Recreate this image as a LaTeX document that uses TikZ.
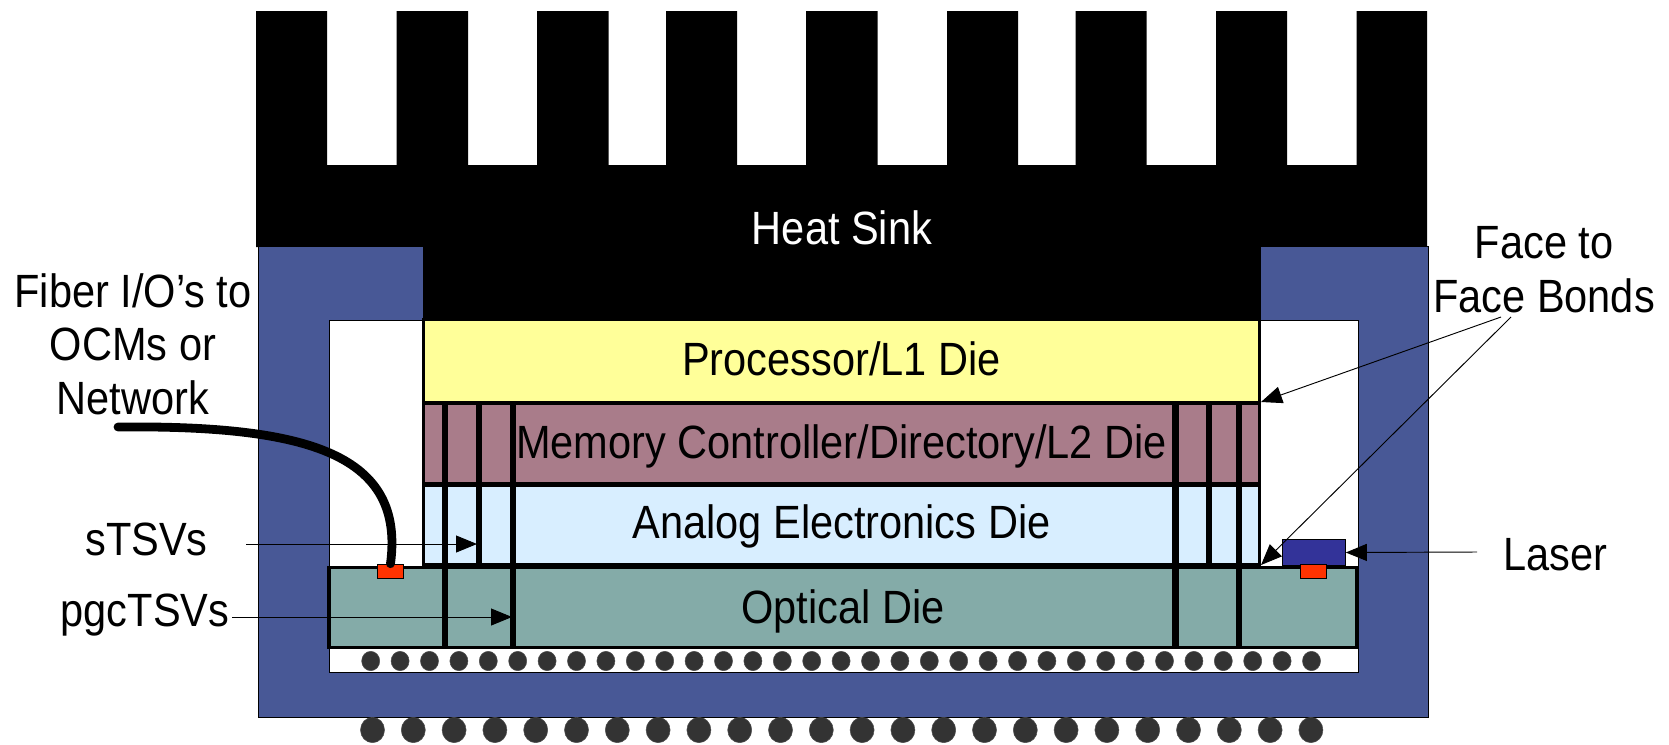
\documentclass[tikz,border=0pt]{standalone}
\usepackage{fontspec}
\setmainfont[FakeStretch=0.89]{Liberation Sans}
\usetikzlibrary{arrows.meta}
\usetikzlibrary{shapes.geometric}
\definecolor{pkgblue}{HTML}{485896}
\definecolor{procyellow}{HTML}{FFFF99}
\definecolor{memmauve}{HTML}{A97C8A}
\definecolor{analogblue}{HTML}{D8EEFF}
\definecolor{opticteal}{HTML}{84ABA8}
\definecolor{padred}{HTML}{FF3300}
\definecolor{laserblue}{HTML}{333399}
\definecolor{ballgrey}{HTML}{333333}
\tikzset{
  lab/.style={font=\fontsize{35}{40}\selectfont, inner sep=0pt, align=center},
  die/.style={draw=black, line width=2.4pt, inner sep=0pt, font=\fontsize{35}{40}\selectfont, text depth=7.4pt},
  pad/.style={draw=black, line width=0.7pt, fill=padred, inner sep=0pt, minimum width=20pt, minimum height=11pt},
  tsv/.style={line width=4.6pt, black},
  callout/.style={line width=0.7pt, black, -{Triangle[length=15.75pt,width=12.75pt]}},
  smallball/.style={draw=black!70, line width=0.4pt, fill=ballgrey, ellipse, inner sep=0pt, minimum width=13.5pt, minimum height=14.5pt},
  bigball/.style={draw=black!70, line width=0.4pt, fill=ballgrey, ellipse, inner sep=0pt, minimum width=18pt, minimum height=19pt},
}
\begin{document}
\begin{tikzpicture}[x=0.75pt,y=-0.75pt]
\useasboundingbox (0,0) rectangle (1669,744);
% heat sink
\fill[black] (256,11) -- (327,11) -- (327,165) -- (396.5,165) -- (396.5,11)
  -- (468,11) -- (468,165) -- (537,165) -- (537,11)
  -- (608.5,11) -- (608.5,165) -- (666,165) -- (666,11)
  -- (737,11) -- (737,165) -- (806,165) -- (806,11)
  -- (877.5,11) -- (877.5,165) -- (947,165) -- (947,11)
  -- (1018,11) -- (1018,165) -- (1075.5,165) -- (1075.5,11)
  -- (1146.5,11) -- (1146.5,165) -- (1216,165) -- (1216,11)
  -- (1287,11) -- (1287,165) -- (1356.5,165) -- (1356.5,11)
  -- (1427,11) -- (1427,247) -- (1260,247) -- (1260,322) -- (423,322) -- (423,247) -- (256,247) -- cycle;
\node[lab, text=white] (sink) at (842,228) {Heat Sink};
% package
\draw[fill=pkgblue, draw=black, line width=0.7pt] (258,246.5) -- (423,246.5) -- (423,320) -- (329,320) -- (329,672)
  -- (1358,672) -- (1358,320) -- (1260,320) -- (1260,246.5) -- (1428,246.5) -- (1428,717) -- (258,717) -- cycle;
% dies
\node[die, fill=procyellow, minimum width=627pt, minimum height=62pt, text height=29.8pt] (proc) at (841.5,361) {Processor/L1 Die};
\node[die, fill=memmauve, minimum width=627pt, minimum height=60pt, text height=29.8pt] (mem) at (841.5,443.5) {Memory Controller/Directory/L2 Die};
\node[die, fill=analogblue, minimum width=627pt, minimum height=60pt, text height=28.2pt] (analog) at (841.5,525) {Analog Electronics Die};
\node[die, fill=opticteal, minimum width=771pt, minimum height=60.5pt, text height=31.4pt] (optic) at (843,607.5) {Optical Die};
% TSVs
\foreach \x/\yb in {444.6/648,478.6/568,513/648,1175.5/648,1209/568,1239/648}
  \draw[tsv] (\x,403) -- (\x,\yb);
% small balls
\foreach \i in {0,...,32}
  \node[smallball] (sb\i) at ({370.7+\i*29.4},661) {};
% big balls
\foreach \i in {0,...,23}
  \node[bigball] (bb\i) at ({372.5+\i*40.8},730) {};
% laser and pads
\node[draw=black, line width=0.7pt, fill=laserblue, inner sep=0pt, minimum width=47pt, minimum height=20pt] (laser) at (1314,552.5) {};
\node[pad] (padl) at (390.5,571.5) {};
\node[pad] (padr) at (1313.5,571.5) {};
% cable
\coordinate (cablestart) at (118,427);
\draw[line width=6.6pt, line cap=round] (cablestart) .. controls (310,425) and (405,455) .. (padl.north);
% labels
\node[lab] (fiber) at (133,344) {Fiber I/O’s to\\OCMs or\\Network};
\node[lab] (face) at (1544,269.5) {Face to\\Face Bonds};
\node[lab] (stsv) at (146.5,539) {sTSVs};
\node[lab] (pgc) at (145,615) {pgcTSVs};
\node[lab] (laserlab) at (1555,555) {Laser};
% callouts
\coordinate (sfrom) at (246,544);
\coordinate (sto) at (477,544);
\coordinate (pfrom) at (232,617);
\coordinate (pto) at (512,617);
\coordinate (lfrom) at (1477,552);
\coordinate (ffrom1) at (1501,317);
\coordinate (ffrom2) at (1511,317);
\coordinate (fto1) at (1261,402);
\coordinate (fto2) at (1261,565);
\draw[callout] (sfrom) -- (sto);
\draw[callout] (pfrom) -- (pto);
\draw[callout] (lfrom) -- (laser.east);
\draw[callout] (ffrom1) -- (fto1);
\draw[callout] (ffrom2) -- (fto2);
\end{tikzpicture}
\end{document}
